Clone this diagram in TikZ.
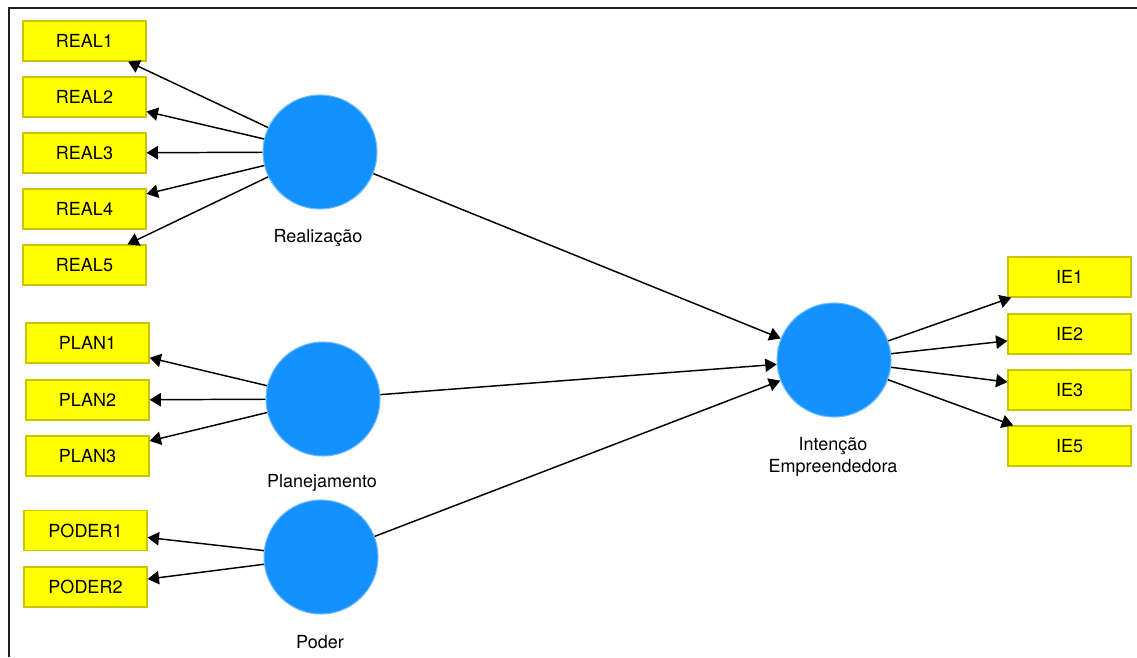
\documentclass[tikz,border=0pt]{standalone}
\usepackage{fontspec}
\setmainfont{TeX Gyre Heros}
\usetikzlibrary{arrows.meta}
\definecolor{indfill}{RGB}{255,255,0}
\definecolor{indedge}{RGB}{200,196,0}
\definecolor{latfill}{RGB}{18,145,255}
\definecolor{latedge}{RGB}{110,185,255}
\definecolor{frame}{RGB}{30,30,30}
\tikzset{
  indicator/.style={rectangle, draw=indedge, fill=indfill, line width=0.9pt,
    minimum width=92.25pt, minimum height=30pt, inner sep=0pt,
    font=\fontsize{13.5}{16}\selectfont},
  latent/.style={circle, draw=latedge, fill=latfill, line width=0.8pt,
    minimum size=85.5pt, inner sep=0pt},
  caption/.style={font=\fontsize{13.5}{16.5}\selectfont, align=center},
  link/.style={draw=black, line width=1.1pt, -{Triangle[length=8.5pt,width=10pt]}}
}
\begin{document}
\begin{tikzpicture}[x=0.75pt, y=-0.75pt]
\useasboundingbox (0,0) rectangle (1137,657);
% frame
\draw[frame, line width=1.6pt] (9,657) -- (9,8) -- (1137,8);

% latent variables
\node[latent] (real) at (320,152) {};
\node[latent] (plan) at (323,399) {};
\node[latent] (poder) at (321,557) {};
\node[latent] (ie) at (834,360) {};

\node[caption] (lreal) at (318,238) {Realização};
\node[caption] (lplan) at (322,483) {Planejamento};
\node[caption] (lpoder) at (320,642) {Poder};
\node[caption] (lie) at (833,457) {Intenção\\Empreendedora};

% indicators
\node[indicator] (r1) at (84.5,41) {REAL1};
\node[indicator] (r2) at (84.5,97) {REAL2};
\node[indicator] (r3) at (84.5,153) {REAL3};
\node[indicator] (r4) at (84.5,209) {REAL4};
\node[indicator] (r5) at (84.5,265) {REAL5};

\node[indicator] (p1) at (87.5,343) {PLAN1};
\node[indicator] (p2) at (87.5,400) {PLAN2};
\node[indicator] (p3) at (87.5,456) {PLAN3};

\node[indicator] (d1) at (85.5,530.5) {PODER1};
\node[indicator] (d2) at (85.5,587) {PODER2};

\node[indicator] (e1) at (1069.5,277) {IE1};
\node[indicator] (e2) at (1069.5,334) {IE2};
\node[indicator] (e3) at (1069.5,390) {IE3};
\node[indicator] (e5) at (1069.5,446) {IE5};

% measurement paths
\foreach \t in {r1,r2,r3,r4,r5} \draw[link] (real) -- (\t);
\foreach \t in {p1,p2,p3} \draw[link] (plan) -- (\t);
\foreach \t in {d1,d2} \draw[link] (poder) -- (\t);
\foreach \t in {e1,e2,e3,e5} \draw[link] (ie) -- (\t);

% structural paths
\draw[link] (real) -- (ie);
\draw[link] (plan) -- (ie);
\draw[link] (poder) -- (ie);
\end{tikzpicture}
\end{document}
